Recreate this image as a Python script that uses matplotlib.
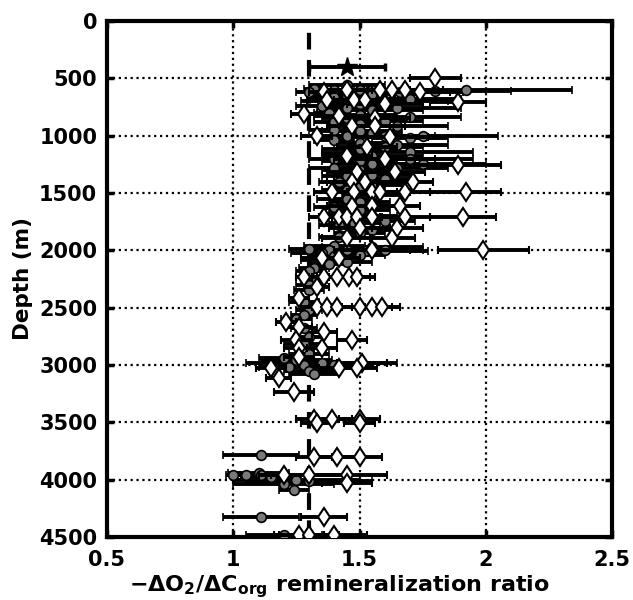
import numpy as np
import matplotlib
matplotlib.use("Agg")
import matplotlib.pyplot as plt

# ratio profile: depth (m), -dO2/dCorg, half-width of the error bar
star_depth = [400]
star_ratio = [1.45]
star_err = [0.15]

dia_depth = [500, 600, 600, 600, 600, 620, 620, 690, 690, 690, 710, 720, 810, 830, 850,
             915, 915, 1000, 1010, 1100, 1180, 1200, 1255, 1315, 1315, 1400, 1400, 1400,
             1490, 1490, 1490, 1490, 1490, 1490, 1615, 1615, 1615, 1710, 1710, 1710, 1710,
             1710, 1710, 1710, 1805, 1805, 1890, 1890, 1995, 1995, 2065, 2065, 2230, 2230,
             2230, 2230, 2230, 2320, 2415, 2495, 2495, 2495, 2495, 2495, 2495, 2625, 2670,
             2710, 2780, 2780, 2850, 2850, 2930, 2980, 3025, 3025, 3025, 3110, 3235, 3470,
             3470, 3470, 3510, 3510, 3800, 3800, 3800, 3960, 3960, 3960, 4030, 4325, 4480,
             4480, 4480]
dia_ratio = [1.80, 1.45, 1.58, 1.63, 1.68, 1.74, 1.36, 1.37, 1.48, 1.52, 1.89, 1.60, 1.28, 1.42, 1.56,
             1.47, 1.56, 1.33, 1.62, 1.53, 1.45, 1.60, 1.89, 1.49, 1.64, 1.47, 1.52, 1.71,
             1.39, 1.48, 1.55, 1.58, 1.68, 1.92, 1.47, 1.55, 1.66, 1.36, 1.42, 1.45, 1.49,
             1.55, 1.68, 1.91, 1.50, 1.65, 1.45, 1.63, 1.99, 1.55, 1.35, 1.42, 1.28, 1.36,
             1.41, 1.46, 1.49, 1.33, 1.26, 1.33, 1.37, 1.41, 1.50, 1.55, 1.59, 1.21, 1.26,
             1.36, 1.25, 1.47, 1.26, 1.35, 1.26, 1.51, 1.15, 1.42, 1.49, 1.18, 1.24, 1.32,
             1.39, 1.50, 1.33, 1.50, 1.32, 1.41, 1.50, 1.20, 1.30, 1.45, 1.45, 1.36, 1.26,
             1.30, 1.40]
dia_err = [0.10, 0.10, 0.12, 0.10, 0.15, 0.12, 0.06, 0.08, 0.10, 0.12, 0.11, 0.15, 0.05, 0.10, 0.14,
           0.10, 0.12, 0.06, 0.15, 0.12, 0.10, 0.20, 0.17, 0.12, 0.12, 0.10, 0.12, 0.08,
           0.07, 0.10, 0.10, 0.12, 0.10, 0.14, 0.10, 0.12, 0.08, 0.06, 0.08, 0.10, 0.10,
           0.12, 0.10, 0.13, 0.12, 0.10, 0.10, 0.09, 0.18, 0.15, 0.08, 0.08, 0.03, 0.06,
           0.08, 0.08, 0.07, 0.05, 0.04, 0.06, 0.06, 0.08, 0.08, 0.08, 0.07, 0.04, 0.05,
           0.05, 0.06, 0.06, 0.06, 0.06, 0.06, 0.10, 0.06, 0.08, 0.08, 0.05, 0.08, 0.07,
           0.08, 0.08, 0.06, 0.06, 0.07, 0.08, 0.09, 0.10, 0.15, 0.16, 0.10, 0.09, 0.10,
           0.12, 0.13]

circ_depth = [560, 590, 600, 600, 600, 600, 610, 620, 620, 640, 650, 660, 680, 700, 700,
              720, 740, 760, 760, 780, 800, 820, 840, 850, 870, 880, 900, 920, 950, 960,
              980, 1000, 1000, 1000, 1020, 1040, 1060, 1080, 1100, 1120, 1140, 1150, 1180,
              1200, 1200, 1220, 1250, 1250, 1280, 1280, 1300, 1340, 1350, 1380, 1400, 1430,
              1450, 1470, 1520, 1550, 1580, 1620, 1650, 1680, 1700, 1740, 1760, 1780, 1820,
              1850, 1880, 1960, 1970, 1990, 1995, 2000, 2000, 2010, 2020, 2040, 2050, 2080,
              2100, 2120, 2150, 2180, 2260, 2300, 2350, 2450, 2520, 2560, 2600, 2680, 2760,
              2820, 2900, 2940, 2960, 2980, 3000, 3000, 3020, 3050, 3080, 3785, 3940, 3960,
              3960, 3960, 3980, 4000, 4010, 4040, 4090, 4325, 4480]
circ_ratio = [1.45, 1.32, 1.40, 1.50, 1.55, 1.92, 1.80, 1.66, 1.30, 1.55, 1.45, 1.40, 1.70, 1.35, 1.60,
              1.50, 1.35, 1.45, 1.65, 1.55, 1.38, 1.50, 1.70, 1.45, 1.60, 1.40, 1.50, 1.65, 1.40, 1.50,
              1.55, 1.45, 1.60, 1.75, 1.70, 1.40, 1.50, 1.65, 1.60, 1.50, 1.70, 1.45, 1.55,
              1.40, 1.70, 1.50, 1.55, 1.75, 1.40, 1.65, 1.50, 1.55, 1.45, 1.60, 1.42, 1.55,
              1.50, 1.45, 1.55, 1.45, 1.50, 1.40, 1.50, 1.45, 1.55, 1.60, 1.48, 1.42, 1.55,
              1.50, 1.42, 1.40, 1.55, 1.30, 1.38, 1.45, 1.60, 1.52, 1.35, 1.50, 1.40, 1.35,
              1.45, 1.38, 1.32, 1.30, 1.32, 1.30, 1.30, 1.28, 1.30, 1.28, 1.25, 1.28, 1.30,
              1.28, 1.30, 1.20, 1.25, 1.35, 1.28, 1.40, 1.22, 1.30, 1.32, 1.11, 1.10, 1.00,
              1.05, 1.11, 1.15, 1.25, 1.30, 1.20, 1.24, 1.11, 1.20]
circ_err = [0.15, 0.04, 0.08, 0.10, 0.12, 0.42, 0.30, 0.25, 0.05, 0.20, 0.15, 0.10, 0.20, 0.08, 0.25,
            0.15, 0.10, 0.12, 0.25, 0.20, 0.06, 0.15, 0.20, 0.10, 0.15, 0.08, 0.12, 0.20, 0.10, 0.15,
            0.12, 0.12, 0.20, 0.30, 0.15, 0.08, 0.10, 0.20, 0.15, 0.15, 0.25, 0.10, 0.20,
            0.10, 0.25, 0.15, 0.15, 0.25, 0.10, 0.20, 0.15, 0.15, 0.10, 0.12, 0.08, 0.12,
            0.10, 0.10, 0.12, 0.12, 0.12, 0.08, 0.12, 0.10, 0.10, 0.12, 0.10, 0.08, 0.10,
            0.10, 0.08, 0.12, 0.20, 0.08, 0.10, 0.12, 0.15, 0.25, 0.12, 0.10, 0.10, 0.08,
            0.10, 0.08, 0.06, 0.05, 0.05, 0.05, 0.06, 0.06, 0.05, 0.05, 0.06, 0.05, 0.06,
            0.08, 0.08, 0.10, 0.14, 0.30, 0.10, 0.15, 0.12, 0.10, 0.10, 0.15, 0.12, 0.03,
            0.05, 0.10, 0.12, 0.25, 0.25, 0.20, 0.06, 0.15, 0.15]

redfield = 1.3

plt.rcParams['font.family'] = ['DejaVu Sans']
plt.rcParams['font.weight'] = 'bold'
plt.rcParams['mathtext.fontset'] = 'dejavusans'
plt.rcParams['mathtext.default'] = 'bf'

fig = plt.figure(figsize=(6.33, 6.0), dpi=100)
ax = fig.add_axes([0.169, 0.105, 0.798, 0.860])

ax.grid(True, linestyle=':', color='black', linewidth=1.6, zorder=0)
ax.axvline(redfield, color='black', linestyle=(0, (4, 2.5)), linewidth=3, zorder=1)

ekw = dict(ecolor='black', elinewidth=2.8, capsize=3, capthick=2.5, linestyle='none')
ax.errorbar(circ_ratio, circ_depth, xerr=circ_err, marker='o', markersize=7,
            markerfacecolor='#7a7a7a', markeredgecolor='black', markeredgewidth=1.2,
            zorder=3, **ekw)
ax.errorbar(dia_ratio, dia_depth, xerr=dia_err, marker='d', markersize=9.5,
            markerfacecolor='white', markeredgecolor='black', markeredgewidth=1.5,
            zorder=4, **ekw)
ax.errorbar(star_ratio, star_depth, xerr=star_err, marker='*', markersize=15,
            markerfacecolor='black', markeredgecolor='black', zorder=5, **ekw)

ax.set_xlim(0.5, 2.5)
ax.set_ylim(4500, 0)
ax.set_xticks([0.5, 1, 1.5, 2, 2.5])
ax.set_xticklabels(['0.5', '1', '1.5', '2', '2.5'])
ax.set_yticks(np.arange(0, 4501, 500))

for s in ax.spines.values():
    s.set_linewidth(3)
ax.tick_params(direction='in', length=5, width=2.5, top=True, right=True,
               labelsize=15)
ax.tick_params(axis='y', pad=7)
ax.tick_params(axis='x', pad=9)
for lab in ax.get_xticklabels() + ax.get_yticklabels():
    lab.set_fontweight('bold')

ax.set_ylabel('Depth (m)', fontsize=15.5, fontweight='bold')
ax.yaxis.set_label_coords(-0.147, 0.5)
ax.set_xlabel(r'$-\Delta O_2/\Delta C_{org}$ remineralization ratio',
              fontsize=16, fontweight='bold')
ax.xaxis.set_label_coords(0.46, -0.071)

fig.savefig('out.png', dpi=100)
